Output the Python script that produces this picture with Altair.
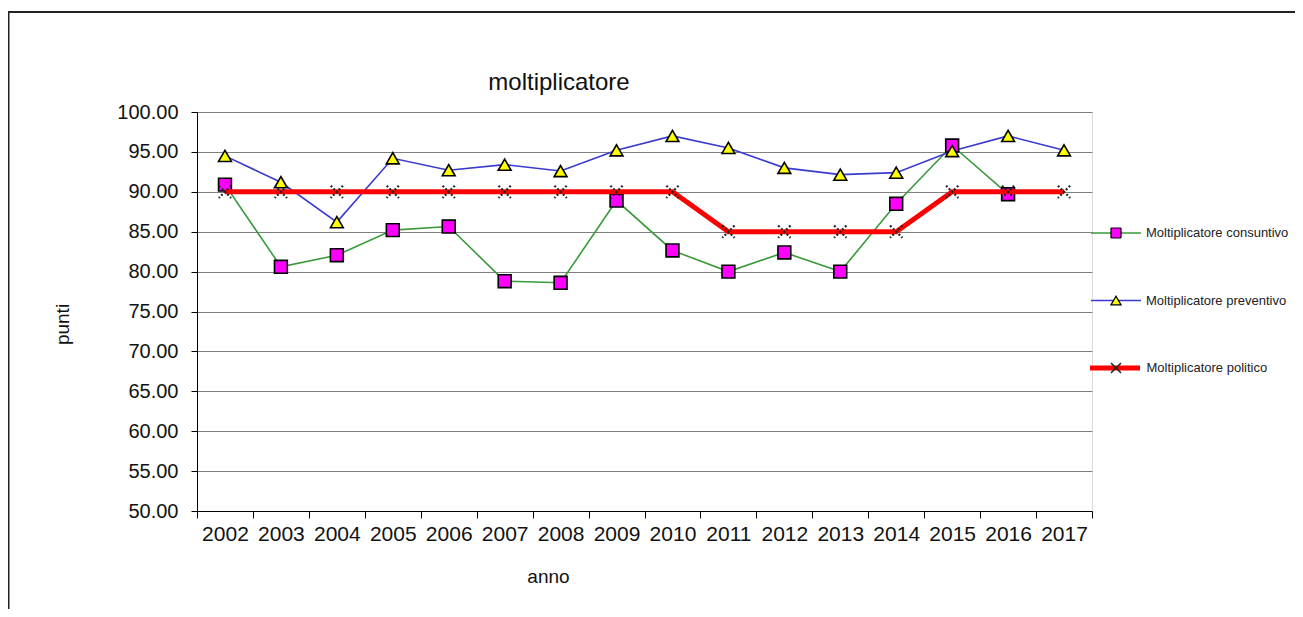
import altair as alt
import pandas as pd

anni = ["2002", "2003", "2004", "2005", "2006", "2007", "2008", "2009",
        "2010", "2011", "2012", "2013", "2014", "2015", "2016", "2017"]
consuntivo = [90.9, 80.6, 82.05, 85.2, 85.65, 78.8, 78.6, 88.9,
              82.65, 80.0, 82.4, 80.0, 88.5, 95.8, 89.7, None]
preventivo = [94.5, 91.2, 86.2, 94.2, 92.7, 93.4, 92.6, 95.2,
              97.0, 95.5, 93.0, 92.15, 92.4, 95.1, 97.0, 95.2]
politico = [90, 90, 90, 90, 90, 90, 90, 90,
            90, 85, 85, 85, 85, 90, 90, 90]
serie = ["Moltiplicatore consuntivo", "Moltiplicatore preventivo", "Moltiplicatore politico"]
y_ticks = [50, 55, 60, 65, 70, 75, 80, 85, 90, 95, 100]

rows = []
for nome, valori in zip(serie, [consuntivo, preventivo, politico]):
    for a, v in zip(anni, valori):
        if v is not None:
            rows.append({"anno": a, "valore": v, "serie": nome})
df = pd.DataFrame(rows)

W, H = 895, 399
FONT = "Liberation Sans"
LX, LY, ROW = 893, 114, 67.5


def line_legend(x, y, width):
    return alt.Legend(
        title=None, orient="none", legendX=x, legendY=y, padding=0,
        symbolType="stroke", symbolSize=2500, symbolStrokeWidth=width,
        clipHeight=14, rowPadding=ROW - 14,
        labelFont=FONT, labelFontSize=13, labelColor="#222", labelOffset=4, zindex=1,
    )


def marker_legend(y, size, sw):
    return alt.Legend(
        title=None, orient="none", legendX=LX + 20, legendY=y, padding=0,
        symbolSize=size, symbolStrokeWidth=sw,
        symbolDash=[10, 0], symbolOpacity=1,
        clipHeight=14, rowPadding=ROW - 14, labelExpr="''",
        labelOffset=0, zindex=3,
    )


base = alt.Chart(df).encode(
    x=alt.X(
        "anno:N", sort=anni,
        scale=alt.Scale(type="band", domain=anni, paddingInner=0, paddingOuter=0),
        axis=alt.Axis(
            title="anno", labelAngle=0, tickBand="extent", tickSize=7, grid=False,
            labelFont=FONT, labelFontSize=21, labelColor="#111",
            labelPadding=5, domainColor="black", tickColor="black",
            titleFont=FONT, titleFontSize=19, titleFontWeight="normal", titleColor="#111",
            titleX=351, titleY=65, titleBaseline="middle", titleAlign="center",
        ),
    ),
    y=alt.Y(
        "valore:Q",
        scale=alt.Scale(domain=[50, 100], nice=False, zero=False),
        axis=alt.Axis(
            values=y_ticks, format=".2f", tickSize=6, labelPadding=13,
            labelFont=FONT, labelFontSize=20, labelColor="#111",
            domainColor="black", tickColor="black", gridColor="#808080", gridWidth=1,
            title="punti", titleFont=FONT, titleFontSize=19, titleFontWeight="normal",
            titleColor="#111", titleX=-135, titleY=212, titleAngle=270,
            titleAlign="center", titleBaseline="middle",
        ),
    ),
)

two = alt.FieldOneOfPredicate(field="serie", oneOf=serie[:2])
pol = alt.FieldEqualPredicate(field="serie", equal=serie[2])

lines_a = base.transform_filter(two).mark_line(strokeWidth=1.6).encode(
    stroke=alt.Stroke("serie:N", sort=serie[:2], legend=line_legend(LX, LY, 1.6),
                      scale=alt.Scale(domain=serie[:2], range=["#3a9a3a", "#3a3ad0"]))
)
leg_a = marker_legend(LY, 100, 1.2)
points_a = base.transform_filter(two).mark_point(
    filled=True, opacity=1, size=165, strokeWidth=1.6
).encode(
    stroke=alt.Stroke("serie:N", sort=serie[:2], legend=leg_a,
                      scale=alt.Scale(domain=serie[:2], range=["#000000", "#000000"])),
    fill=alt.Fill("serie:N", sort=serie[:2], legend=leg_a,
                  scale=alt.Scale(domain=serie[:2], range=["#ff00ff", "#ffff00"])),
    shape=alt.Shape("serie:N", sort=serie[:2], legend=leg_a,
                    scale=alt.Scale(domain=serie[:2], range=["square", "triangle-up"])),
)
lines_b = base.transform_filter(pol).mark_line(strokeWidth=5).encode(
    stroke=alt.Stroke("serie:N", legend=line_legend(LX - 2.5, LY + 2 * ROW, 5),
                      scale=alt.Scale(domain=serie[2:], range=["#ff0000"]))
)
leg_b = marker_legend(LY + 2 * ROW, 100, 1.5)
points_b = base.transform_filter(pol).mark_point(
    filled=True, opacity=1, size=150, strokeWidth=2.2, strokeDash=[2, 2]
).encode(
    stroke=alt.Stroke("serie:N", legend=leg_b,
                      scale=alt.Scale(domain=serie[2:], range=["#222222"])),
    fill=alt.Fill("serie:N", legend=leg_b,
                  scale=alt.Scale(domain=serie[2:], range=["#909090"])),
    shape=alt.Shape("serie:N", legend=leg_b,
                    scale=alt.Scale(domain=serie[2:], range=["M-1,-1L1,1M1,-1L-1,1"])),
)

frame_df = pd.DataFrame({"k": [0]})
frame_v = alt.Chart(frame_df).mark_rule(color="#222", strokeWidth=2).encode(
    x=alt.value(-188.5), y=alt.value(-100), y2=alt.value(510)
)
frame_h = alt.Chart(frame_df).mark_rule(color="#222", strokeWidth=2).encode(
    x=alt.value(-190), x2=alt.value(1110), y=alt.value(-100)
)
title_df = pd.DataFrame({"t": ["moltiplicatore"]})
title = alt.Chart(title_df).mark_text(
    font=FONT, fontSize=24, color="#111", align="center", baseline="middle"
).encode(text="t:N", x=alt.value(362), y=alt.value(-29))

chart = alt.layer(
    lines_a, points_a, lines_b, points_b, frame_v, frame_h, title
).resolve_scale(
    stroke="independent", fill="independent", shape="independent"
).resolve_legend(
    stroke="independent", fill="independent", shape="independent"
).properties(
    width=W, height=H,
    autosize=alt.AutoSizeParams(type="none"),
    padding={"left": 189, "top": 104, "right": 203, "bottom": 98},
).configure_view(
    fill="#c0c0c0", stroke="#808080", strokeWidth=1.5
).configure(background="white")

chart.save("out.html", embed_options={"renderer": "svg", "actions": False})
